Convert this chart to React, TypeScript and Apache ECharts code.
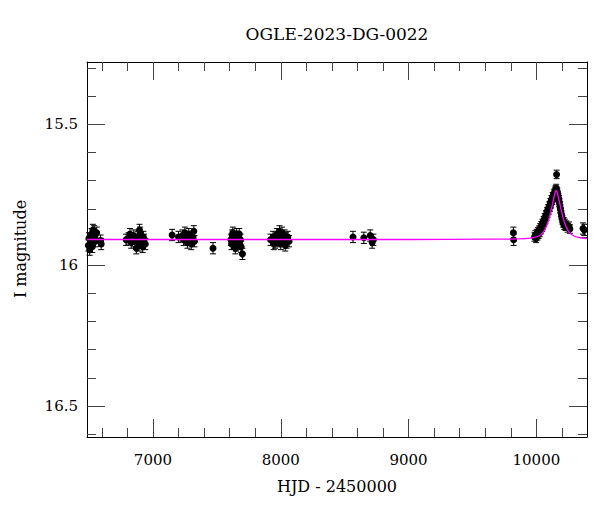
import React, { useEffect, useRef } from "react";
import * as echarts from "echarts";

const titleText = "OGLE-2023-DG-0022";
const xName = "HJD - 2450000";
const yName = "I magnitude";

const xMajor = [7000, 8000, 9000, 10000];
const xMinor = [6600, 6800, 7200, 7400, 7600, 7800, 8200, 8400, 8600, 8800, 9200, 9400, 9600, 9800, 10200];
const yMajor = [15.5, 16, 16.5];
const yMinor = [15.3, 15.4, 15.6, 15.7, 15.8, 15.9, 16.1, 16.2, 16.3, 16.4, 16.6];

// baseline photometry [HJD-2450000, I mag]
const baselinePoints: number[][] = [
  [6495, 15.93], [6500, 15.905], [6505, 15.945], [6510, 15.92], [6520, 15.89], [6525, 15.935],
  [6530, 15.875], [6540, 15.88], [6545, 15.9], [6550, 15.915], [6560, 15.885],
  [6590, 15.913], [6595, 15.925],
  [6790, 15.91], [6810, 15.905], [6820, 15.89], [6830, 15.92], [6850, 15.895], [6860, 15.915],
  [6870, 15.94], [6880, 15.9], [6890, 15.93], [6900, 15.885], [6910, 15.92], [6920, 15.935],
  [6930, 15.91], [6940, 15.925], [6895, 15.875], [6925, 15.9],
  [7150, 15.893],
  [7200, 15.9], [7230, 15.895], [7240, 15.91], [7250, 15.885], [7260, 15.905], [7270, 15.92],
  [7280, 15.89], [7290, 15.91], [7300, 15.925], [7310, 15.9], [7320, 15.88], [7325, 15.915],
  [7470, 15.94],
  [7610, 15.91], [7620, 15.895], [7625, 15.885], [7630, 15.92], [7640, 15.9], [7645, 15.94],
  [7650, 15.93], [7655, 15.89], [7660, 15.915], [7665, 15.9], [7670, 15.905], [7680, 15.925],
  [7690, 15.935], [7700, 15.96], [7615, 15.925], [7635, 15.905], [7675, 15.89], [7685, 15.91],
  [7920, 15.91], [7940, 15.9], [7955, 15.92], [7970, 15.89], [7985, 15.905], [7990, 15.88],
  [8000, 15.925], [8010, 15.885], [8020, 15.91], [8030, 15.895], [8035, 15.93], [8045, 15.92],
  [8055, 15.9], [8065, 15.915], [7945, 15.925], [7975, 15.915], [8005, 15.9], [8040, 15.905],
  [8565, 15.9], [8650, 15.903], [8700, 15.895], [8715, 15.92], [8725, 15.91],
  [9820, 15.885], [9822, 15.91],
  [10365, 15.87], [10375, 15.875],
];
const baselineErr = 0.02;

// event photometry [HJD-2450000, I mag]
const eventPoints: number[][] = [
  [9985, 15.9], [9992, 15.893], [9998, 15.905], [10003, 15.888], [10008, 15.896], [10012, 15.882],
  [10017, 15.89], [10021, 15.876], [10026, 15.884], [10030, 15.868], [10035, 15.874], [10039, 15.86],
  [10044, 15.866], [10048, 15.852], [10052, 15.858], [10057, 15.842], [10061, 15.848], [10066, 15.832],
  [10070, 15.838], [10075, 15.822], [10079, 15.826], [10084, 15.81], [10088, 15.815], [10093, 15.8],
  [10097, 15.804], [10101, 15.79], [10106, 15.794], [10110, 15.778], [10115, 15.782], [10119, 15.768],
  [10124, 15.77], [10128, 15.757], [10133, 15.76], [10137, 15.748], [10142, 15.745], [10146, 15.738],
  [10151, 15.733], [10155, 15.728], [10158, 15.678], [10160, 15.738], [10164, 15.742], [10168, 15.752],
  [10172, 15.76], [10176, 15.768], [10180, 15.778], [10184, 15.79], [10188, 15.8], [10192, 15.812],
  [10196, 15.822], [10200, 15.832], [10205, 15.84], [10209, 15.85], [10214, 15.846], [10218, 15.858],
  [10223, 15.852], [10228, 15.862], [10235, 15.858], [10245, 15.868], [10255, 15.862], [10262, 15.872],
];
const eventErr = 0.015;

// model light curve
const modelHjd = [6484, 8000, 9000, 9600, 9855, 9975, 10025, 10055, 10075, 10095, 10105, 10115, 10125, 10135, 10145, 10155, 10165, 10175, 10185, 10195, 10205, 10215, 10235, 10255, 10285, 10335, 10396];
const modelMag = [15.909, 15.909, 15.909, 15.908, 15.907, 15.902, 15.895, 15.882, 15.866, 15.842, 15.825, 15.805, 15.785, 15.765, 15.745, 15.735, 15.745, 15.765, 15.785, 15.805, 15.825, 15.842, 15.866, 15.882, 15.895, 15.902, 15.906];

const FONT = "DejaVu Serif";
const X_MIN = 6484, X_MAX = 10396, Y_MIN = 15.279, Y_MAX = 16.61;

export default function App() {
  const ref = useRef<HTMLDivElement>(null);
  useEffect(() => {
    if (!ref.current) return;
    const chart = echarts.init(ref.current, null, { renderer: "svg" });
    const tickColor = "#444";
    const mkX = (pos: string, vals: number[], len: number, labels: boolean, line: boolean) => ({
      type: "value", min: X_MIN, max: X_MAX, position: pos,
      axisLine: { show: line, onZero: false, lineStyle: { color: "#000", width: 1 } },
      axisTick: { show: true, inside: true, length: len, customValues: vals, lineStyle: { color: tickColor, width: 1 } },
      axisLabel: labels
        ? { show: true, customValues: vals, fontFamily: FONT, fontSize: 15, color: "#000", margin: 15, formatter: (v: number) => String(Math.round(v)) }
        : { show: false },
      splitLine: { show: false },
    });
    const mkY = (pos: string, vals: number[], len: number, labels: boolean, line: boolean) => ({
      type: "value", min: Y_MIN, max: Y_MAX, inverse: true, position: pos,
      axisLine: { show: line, onZero: false, lineStyle: { color: "#000", width: 1 } },
      axisTick: { show: true, inside: true, length: len, customValues: vals, lineStyle: { color: tickColor, width: 1 } },
      axisLabel: labels
        ? { show: true, customValues: vals, fontFamily: FONT, fontSize: 15, color: "#000", margin: 9, formatter: (v: number) => String(Math.round(v * 10) / 10) }
        : { show: false },
      splitLine: { show: false },
    });
    const renderErr = (params: any, api: any) => {
      const x = api.value(0), y = api.value(1), e = api.value(2);
      const p = api.coord([x, y]);
      const t = api.coord([x, y - e]);
      const b = api.coord([x, y + e]);
      const st = { stroke: "#000", lineWidth: 1 };
      return {
        type: "group",
        children: [
          { type: "line", shape: { x1: p[0], y1: t[1], x2: p[0], y2: b[1] }, style: st },
          { type: "line", shape: { x1: p[0] - 3, y1: t[1], x2: p[0] + 3, y2: t[1] }, style: st },
          { type: "line", shape: { x1: p[0] - 3, y1: b[1], x2: p[0] + 3, y2: b[1] }, style: st },
          { type: "circle", shape: { cx: p[0], cy: p[1], r: 3.5 }, style: { fill: "#000" } },
        ],
      };
    };
    const modelData = modelHjd.map((h, i) => [h, modelMag[i]]);
    const renderModel = (params: any, api: any) => {
      if (params.dataIndex !== 0) return null;
      const pts = modelData.map((d) => api.coord(d));
      return {
        type: "polyline",
        shape: { points: pts, smooth: 0.3 },
        style: { stroke: "#ff00ff", lineWidth: 1.3, fill: null },
      };
    };
    chart.setOption({
      animation: false,
      backgroundColor: "#fff",
      grid: { left: 87, right: 13, top: 62, bottom: 75, containLabel: false },
      xAxis: [
        mkX("bottom", xMajor, 18, true, true),
        mkX("bottom", xMinor, 9, false, false),
        mkX("top", xMajor, 18, false, true),
        mkX("top", xMinor, 9, false, false),
      ],
      yAxis: [
        mkY("left", yMajor, 18, true, true),
        mkY("left", yMinor, 9, false, false),
        mkY("right", yMajor, 18, false, true),
        mkY("right", yMinor, 9, false, false),
      ],
      graphic: [
        { type: "text", x: 337, y: 34, style: { text: titleText, fontFamily: FONT, fontSize: 17, fill: "#000", textAlign: "center", textVerticalAlign: "middle" } },
        { type: "text", x: 337, y: 486, style: { text: xName, fontFamily: FONT, fontSize: 16, fill: "#000", textAlign: "center", textVerticalAlign: "middle" } },
        { type: "text", x: 20.5, y: 249, rotation: Math.PI / 2, style: { text: yName, fontFamily: FONT, fontSize: 16, fill: "#000", textAlign: "center", textVerticalAlign: "middle" } },
      ],
      series: [
        {
          type: "custom", name: "baseline", xAxisIndex: 0, yAxisIndex: 0,
          data: baselinePoints.map((p) => [p[0], p[1], baselineErr]),
          encode: { x: 0, y: 1 }, renderItem: renderErr, z: 2,
        },
        {
          type: "custom", name: "event", xAxisIndex: 0, yAxisIndex: 0,
          data: eventPoints.map((p) => [p[0], p[1], eventErr]),
          encode: { x: 0, y: 1 }, renderItem: renderErr, z: 2,
        },
        {
          type: "custom", name: "model", xAxisIndex: 0, yAxisIndex: 0,
          data: modelData,
          encode: { x: 0, y: 1 }, renderItem: renderModel, z: 5,
        },
      ],
    });
    return () => chart.dispose();
  }, []);
  return <div ref={ref} style={{ position: "fixed", left: 0, top: 0, width: 600, height: 512, background: "#fff" }} />;
}
